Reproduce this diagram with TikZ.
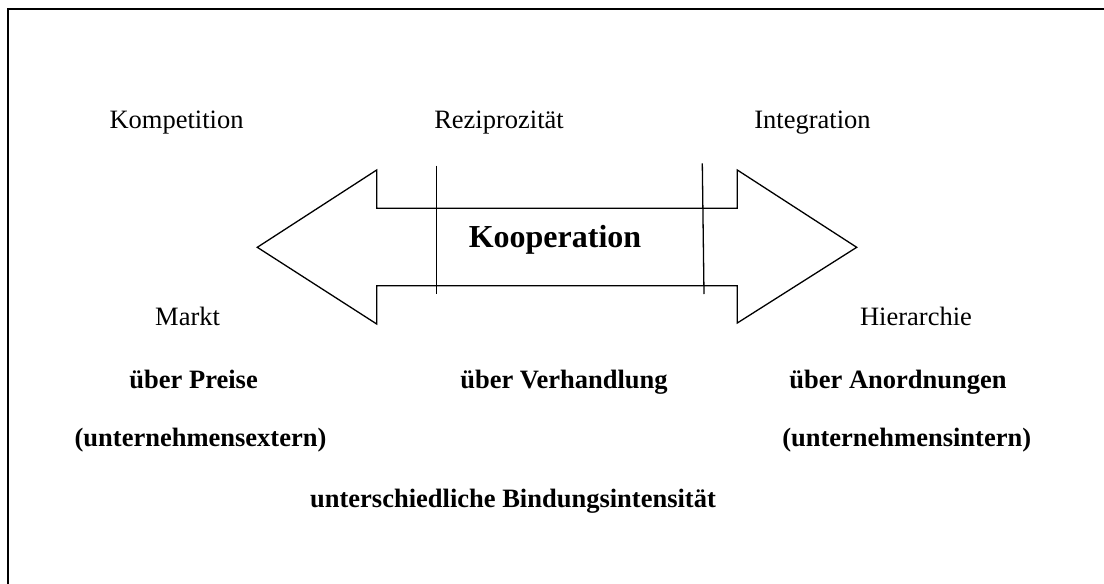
\documentclass[tikz,border=0pt]{standalone}
\usepackage{fontspec}
\setmainfont{Liberation Serif}
\begin{document}
\begin{tikzpicture}[x=1pt,y=-1pt,
  label/.style={inner sep=0pt,anchor=base,font=\fontsize{26.5}{31}\selectfont},
  boldlabel/.style={label,font=\fontsize{26.5}{31}\selectfont\bfseries},
  outline/.style={line width=1.3pt,line join=miter}]
\useasboundingbox (0,0) rectangle (1104,584);
\clip (0,0) rectangle (1104,584);
% outer frame
\draw[line width=2.7pt] (8,600) -- (8,9) -- (1120,9);

% double-headed arrow
\draw[outline] (376.7,208.3) -- (376.7,170) -- (257.3,247.3) -- (376.7,324) -- (376.7,285.7)
  -- (737.3,285.7) -- (737.3,323) -- (856.7,247.3) -- (737.3,170) -- (737.3,208.3) -- cycle;
% separators inside the shaft
\draw[outline] (436.7,165.7) -- (436.7,294);
\draw[outline] (702.3,163.3) -- (704,294);

\node[boldlabel,font=\fontsize{32}{36}\selectfont\bfseries] (koop) at (555,247) {Kooperation};

\node[label] (komp) at (176.5,128) {Kompetition};
\node[label] (rezi) at (499,128) {Reziprozität};
\node[label] (integ) at (812.5,128) {Integration};

\node[label] (markt) at (187.6,325) {Markt};
\node[label] (hier) at (916,325) {Hierarchie};

\node[boldlabel] (preise) at (193.6,388) {über Preise};
\node[boldlabel] (verh) at (564,388) {über Verhandlung};
\node[boldlabel] (anord) at (898,388) {über Anordnungen};

\node[boldlabel] (extern) at (200.5,446) {(unternehmensextern)};
\node[boldlabel] (intern) at (906.7,446) {(unternehmensintern)};

\node[boldlabel] (bind) at (513,507) {unterschiedliche Bindungsintensität};
\end{tikzpicture}
\end{document}
